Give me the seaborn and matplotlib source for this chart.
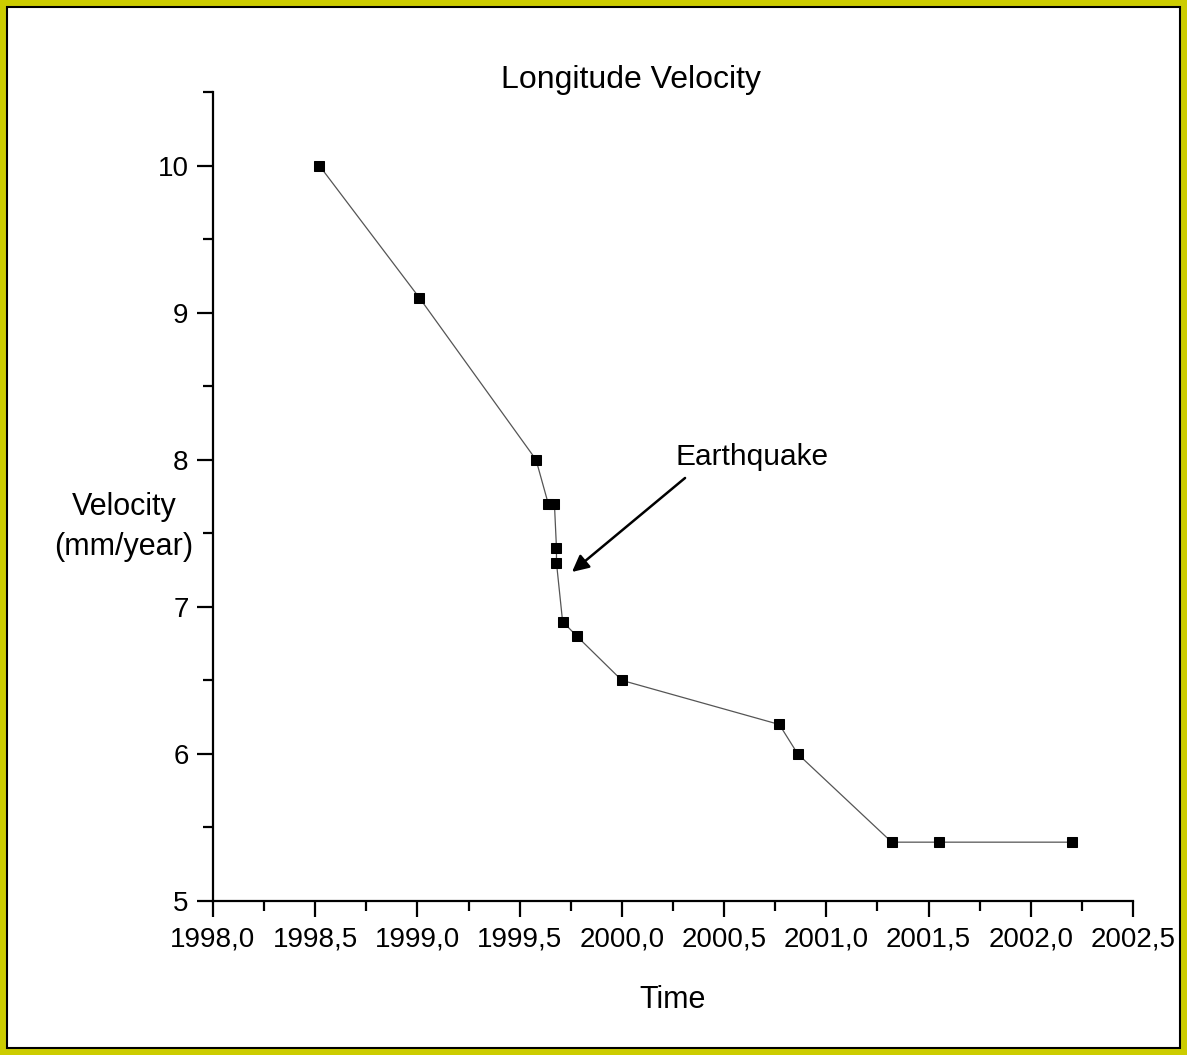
import matplotlib
matplotlib.use("Agg")
import matplotlib.pyplot as plt
from matplotlib.patches import Rectangle
from matplotlib.ticker import MultipleLocator, FuncFormatter
import pandas as pd
import seaborn as sns

# Data
time = [1998.52, 1999.01, 1999.58, 1999.64, 1999.67, 1999.68, 1999.68,
        1999.71, 1999.78, 2000.00, 2000.77, 2000.86, 2001.32, 2001.55, 2002.20]
velocity = [10.0, 9.1, 8.0, 7.7, 7.7, 7.4, 7.3,
            6.9, 6.8, 6.5, 6.2, 6.0, 5.4, 5.4, 5.4]
x_ticks = [1998.0, 1998.5, 1999.0, 1999.5, 2000.0, 2000.5, 2001.0, 2001.5, 2002.0, 2002.5]
y_ticks = [5, 6, 7, 8, 9, 10]

df = pd.DataFrame({"Time": time, "Velocity": velocity})

sns.set_theme(style="ticks")
plt.rcParams["font.family"] = ["Liberation Sans", "DejaVu Sans"]
plt.rcParams["text.color"] = "black"
plt.rcParams["axes.labelcolor"] = "black"

W, H = 1187, 1055
fig = plt.figure(figsize=(W / 100, H / 100), dpi=100)
fig.patch.set_facecolor("white")

# axes placement in pixels: x 213..1133, y 92..901
ax = fig.add_axes([213 / W, 1 - 901 / H, (1133 - 213) / W, (901 - 92) / H])
ax.set_facecolor("white")

sns.lineplot(data=df, x="Time", y="Velocity", ax=ax, sort=False, estimator=None,
             color="#555555", linewidth=0.9, marker="s", markersize=7,
             markerfacecolor="black", markeredgecolor="black")

ax.set_xlim(1998.0, 2002.5)
ax.set_ylim(5, 10.5)
ax.set_xticks(x_ticks)
ax.set_yticks(y_ticks)
ax.xaxis.set_minor_locator(MultipleLocator(0.25))
ax.yaxis.set_minor_locator(MultipleLocator(0.5))
ax.xaxis.set_major_formatter(FuncFormatter(lambda v, p: f"{v:.1f}".replace(".", ",")))

for side in ["top", "right"]:
    ax.spines[side].set_visible(False)
for side in ["left", "bottom"]:
    ax.spines[side].set_linewidth(1.6)
    ax.spines[side].set_color("black")

ax.tick_params(which="major", direction="out", length=11.5, width=1.6,
               labelsize=20, colors="black", pad=6)
ax.tick_params(which="minor", direction="out", length=7.5, width=1.6, colors="black")
ax.tick_params(axis="x", which="major", pad=7)

ax.set_xlabel("Time", fontsize=22)
ax.xaxis.set_label_coords(0.5, -0.104)
ax.set_ylabel("Velocity\n(mm/year)", fontsize=22, rotation=0,
              ha="center", va="center", linespacing=1.45)
ax.yaxis.set_label_coords(-0.097, 0.462)

fig.text(631 / W, 1 - 80 / H, "Longitude Velocity", fontsize=23,
         ha="center", va="center")

# Earthquake annotation
ax.text(2000.26, 8.02, "Earthquake", fontsize=21.5, ha="left", va="center")
ax.annotate("", xy=(1999.756, 7.237), xytext=(2000.309, 7.876),
            arrowprops=dict(arrowstyle="-|>", color="black", lw=1.8,
                            mutation_scale=25, shrinkA=0, shrinkB=0))

# yellow frame with a thin black inner line
fig.patches.append(Rectangle((0, 0), 1, 1, transform=fig.transFigure, fill=False,
                             edgecolor="#cccc00", linewidth=8.6, zorder=10))
fig.patches.append(Rectangle((7 / W, 7 / H), 1 - 14 / W, 1 - 14 / H,
                             transform=fig.transFigure, fill=False,
                             edgecolor="black", linewidth=1.5, zorder=10))

fig.savefig("out.png", dpi=100, facecolor="white")
